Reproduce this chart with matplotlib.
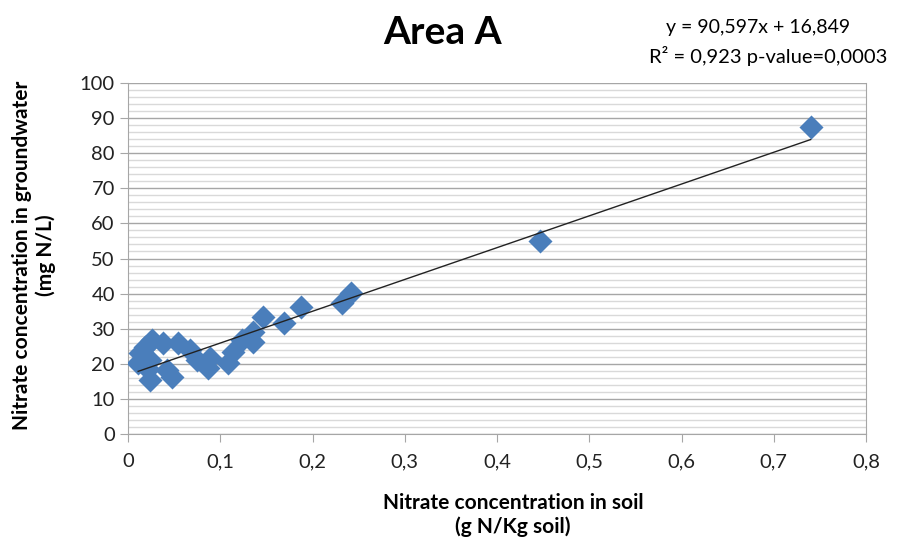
import matplotlib
matplotlib.use("Agg")
import matplotlib.pyplot as plt
import numpy as np
from matplotlib.ticker import MultipleLocator, FuncFormatter

plt.rcParams['font.family'] = ['Lato', 'DejaVu Sans']

soil_x = [0.011, 0.013, 0.018, 0.024, 0.024, 0.026, 0.022, 0.038, 0.042, 0.048,
          0.054, 0.067, 0.075, 0.087, 0.089, 0.108, 0.114, 0.124, 0.136, 0.136,
          0.146, 0.169, 0.188, 0.232, 0.242, 0.447, 0.740]
water_y = [20.2, 23.1, 24.8, 15.4, 21.1, 26.8, 18.5, 25.9, 18.2, 16.2,
           25.9, 23.9, 21.1, 18.8, 21.7, 20.2, 23.4, 26.8, 29.1, 26.2,
           33.3, 31.6, 36.2, 37.3, 40.2, 55.0, 87.5]
slope = 90.597
intercept = 16.849

fig = plt.figure(figsize=(8.99, 5.43), dpi=100)
ax = fig.add_axes([128/899, 1-434/543, (866-128)/899, (434-83)/543])

ax.set_xlim(0, 0.8)
ax.set_ylim(0, 100)
ax.xaxis.set_major_locator(MultipleLocator(0.1))
ax.yaxis.set_major_locator(MultipleLocator(10))
ax.yaxis.set_minor_locator(MultipleLocator(2))
ax.grid(which='minor', axis='y', color='#d9d9d9', lw=1.0)
ax.grid(which='major', axis='y', color='#a6a6a6', lw=1.0)
ax.set_axisbelow(True)
ax.tick_params(which='minor', length=0)
ax.tick_params(which='major', length=6, color='#a6a6a6', labelsize=14.5, labelcolor='#222222')
ax.tick_params(axis='x', pad=8)

fmt = FuncFormatter(lambda v, p: ('%g' % round(v, 2)).replace('.', ','))
ax.xaxis.set_major_formatter(fmt)

ax.spines['top'].set_visible(False)
ax.spines['right'].set_color('#a6a6a6')
ax.spines['left'].set_color('#a6a6a6')
ax.spines['bottom'].set_color('#a6a6a6')

ax.scatter(soil_x, water_y, marker='D', s=150, color='#4a7ebb', zorder=3, linewidths=0)
xs = np.array([min(soil_x), max(soil_x)])
ax.plot(xs, slope*xs + intercept, color='#222222', lw=1.0, zorder=4)

fig.text(513/899, 1-515/543, 'Nitrate concentration in soil\n(g N/Kg soil)', fontsize=15,
         fontweight='bold', ha='center', va='center', multialignment='center', linespacing=1.15)
fig.text(34/899, 1-255/543, 'Nitrate concentration in groundwater\n(mg N/L)', fontsize=15,
         fontweight='bold', ha='center', va='center', multialignment='center', rotation=90,
         linespacing=1.15)

fig.text(443/899, 1-32/543, 'Area A', fontsize=28, fontweight='bold', ha='center', va='center')
fig.text(758/899, 1-28/543, 'y = 90,597x + 16,849', fontsize=14, ha='center', va='center')
fig.text(768/899, 1-56/543, 'R² = 0,923 p-value=0,0003', fontsize=14.5, ha='center', va='center')

fig.savefig('out.png', dpi=100)
